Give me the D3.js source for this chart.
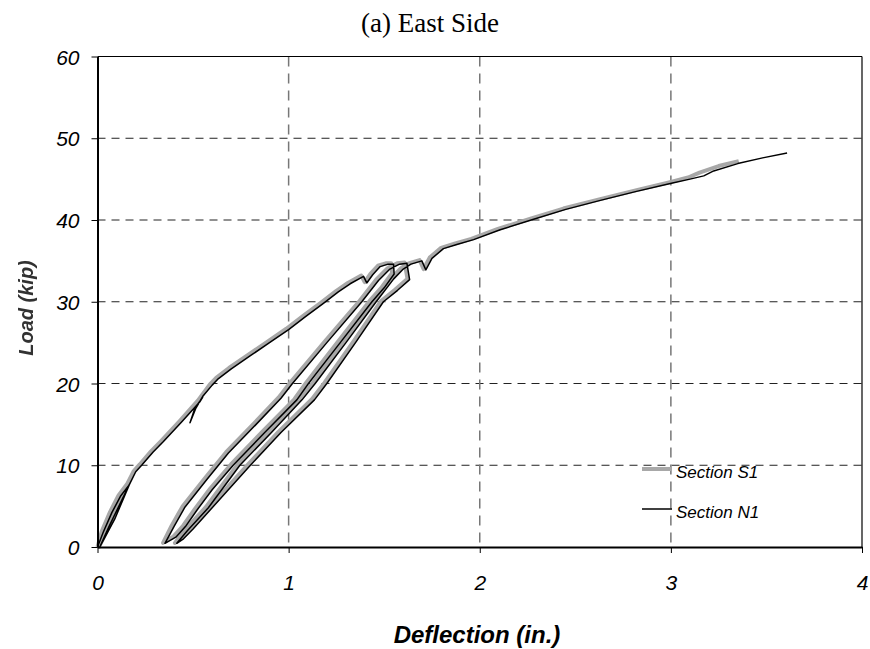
<!DOCTYPE html>
<html>
<head>
<meta charset="utf-8">
<script src="https://cdn.jsdelivr.net/npm/d3@7"></script>
<style>
  body { margin: 0; background: #fff; }
  svg { display: block; }
</style>
</head>
<body>
<svg id="chart" width="870" height="649"></svg>
<script>
// ---------- data ----------
const xTicks = [0, 1, 2, 3, 4];
const yTicks = [0, 10, 20, 30, 40, 50, 60];

// Section N1 (black)
const n1Defl = [0, 0.03, 0.075, 0.12, 0.166, 0.09, 0.012, 0.06, 0.166, 0.20, 0.231, 0.29, 0.345, 0.44, 0.537, 0.55,
  0.51, 0.484, 0.515, 0.55, 0.60, 0.633, 0.70, 0.80, 0.90, 1.0, 1.09, 1.182, 1.26, 1.322, 1.392, 1.409, 1.44, 1.479, 1.52, 1.549, 1.552,
  1.50, 1.436, 1.27, 1.104, 1.043, 0.875, 0.71, 0.60, 0.52, 0.46, 0.41, 0.353,
  0.40, 0.458, 0.57, 0.685, 0.83, 0.96, 1.02, 1.2, 1.383, 1.47, 1.53, 1.58, 1.619, 1.633,
  1.57, 1.496, 1.35, 1.20, 1.135, 0.96, 0.80, 0.70, 0.60, 0.50, 0.45, 0.415,
  0.47, 0.58, 0.745, 0.91, 1.07, 1.139, 1.30, 1.458, 1.55, 1.60, 1.64, 1.697, 1.718, 1.75, 1.81, 1.88, 1.968, 2.107, 2.282,
  2.45, 2.631, 2.82, 3.003, 3.10, 3.172, 3.224, 3.35, 3.48, 3.608];
const n1Load = [0, 1.8, 4.2, 6.2, 7.6, 3.4, 0, 2.5, 7.6, 9.2, 10, 11.6, 12.9, 15.3, 17.8, 18.3,
  17.0, 15.2, 17.0, 18.4, 19.8, 20.6, 21.8, 23.4, 25.0, 26.6, 28.2, 29.8, 31.2, 32.2, 33.1, 32.3, 33.3, 34.3, 34.6, 34.6, 33.4,
  31.7, 30, 25, 20, 18, 14, 10, 7, 4.5, 2.5, 1.2, 0.45,
  2.5, 4.9, 8.2, 11.5, 15, 18.2, 20, 25, 30, 32.6, 34.0, 34.6, 34.7, 32.7,
  31.4, 30, 25, 20, 18, 14, 10, 7.4, 4.8, 2.2, 1.0, 0.45,
  2.0, 4.8, 10, 14, 18, 20, 25, 30, 32.8, 34.0, 34.6, 35.0, 33.9, 35.3, 36.5, 37.0, 37.6, 38.8, 40.1,
  41.3, 42.4, 43.5, 44.5, 45.0, 45.4, 46.0, 46.9, 47.6, 48.2];

// Section S1 (gray)
const s1Defl = [0, 0.022, 0.066, 0.11, 0.155, 0.08, 0.008, 0.05, 0.155, 0.19, 0.221, 0.28, 0.335, 0.43, 0.525,
  0.588, 0.621, 0.688, 0.788, 0.888, 0.988, 1.078, 1.17, 1.248, 1.31, 1.38, 1.398, 1.428, 1.467, 1.508, 1.537, 1.541,
  1.488, 1.424, 1.258, 1.092, 1.031, 0.863, 0.698, 0.588, 0.508, 0.448, 0.398, 0.343,
  0.388, 0.446, 0.558, 0.673, 0.818, 0.948, 1.008, 1.188, 1.371, 1.458, 1.518, 1.568, 1.607, 1.622,
  1.558, 1.484, 1.338, 1.188, 1.123, 0.948, 0.788, 0.688, 0.588, 0.488, 0.438, 0.405,
  0.458, 0.568, 0.733, 0.898, 1.058, 1.127, 1.288, 1.446, 1.538, 1.588, 1.628, 1.685, 1.706, 1.738, 1.798, 1.868, 1.956, 2.095,
  2.27, 2.438, 2.62, 2.81, 2.99, 3.09, 3.15, 3.25, 3.355];
const s1Load = [0, 1.9, 4.3, 6.3, 7.7, 3.5, 0, 2.6, 7.7, 9.3, 10.1, 11.7, 13.0, 15.4, 17.9,
  19.9, 20.7, 21.9, 23.5, 25.1, 26.7, 28.3, 29.9, 31.3, 32.3, 33.2, 32.4, 33.4, 34.4, 34.7, 34.7, 33.5,
  31.8, 30.1, 25.1, 20.1, 18.1, 14.1, 10.1, 7.1, 4.6, 2.6, 1.3, 0.5,
  2.6, 5.0, 8.3, 11.6, 15.1, 18.3, 20.1, 25.1, 30.1, 32.7, 34.1, 34.7, 34.8, 32.8,
  31.5, 30.1, 25.1, 20.1, 18.1, 14.1, 10.1, 7.5, 4.9, 2.3, 1.1, 0.5,
  2.1, 4.9, 10.1, 14.1, 18.1, 20.1, 25.1, 30.1, 32.9, 34.1, 34.7, 35.1, 34.0, 35.4, 36.6, 37.1, 37.7, 38.9,
  40.2, 41.4, 42.5, 43.6, 44.6, 45.2, 45.8, 46.6, 47.2];

const seriesNames = ["Section S1", "Section N1"];

// ---------- chart ----------
const svg = d3.select("#chart");
const pLeft = 97.5, pRight = 862, pTop = 56.5, pBottom = 547;
const x = d3.scaleLinear().domain([0, 4]).range([pLeft, pRight]);
const y = d3.scaleLinear().domain([0, 60]).range([pBottom, pTop]);

const tickFont = "'Liberation Sans', Arial, sans-serif";

// gridlines
svg.append("g").selectAll("line").data(yTicks.filter(v => v > 0 && v < 60)).join("line")
  .attr("x1", pLeft).attr("x2", pRight)
  .attr("y1", d => y(d)).attr("y2", d => y(d))
  .attr("stroke", "#222").attr("stroke-width", 1).attr("stroke-dasharray", "8,6");
svg.append("g").selectAll("line").data(xTicks.filter(v => v > 0 && v < 4)).join("line")
  .attr("x1", d => x(d)).attr("x2", d => x(d))
  .attr("y1", pTop).attr("y2", pBottom)
  .attr("stroke", "#777").attr("stroke-width", 1.5).attr("stroke-dasharray", "10,7");

// frame top/right
svg.append("line").attr("x1", pLeft).attr("x2", pRight).attr("y1", pTop).attr("y2", pTop)
  .attr("stroke", "#000").attr("stroke-width", 1.2);
svg.append("line").attr("x1", pRight).attr("x2", pRight).attr("y1", pTop).attr("y2", pBottom)
  .attr("stroke", "#000").attr("stroke-width", 1.2);

// data lines
const lineGen = d3.line().x(d => x(d[0])).y(d => y(d[1]));
const s1 = s1Defl.map((d, i) => [d, s1Load[i]]);
const n1 = n1Defl.map((d, i) => [d, n1Load[i]]);
svg.append("path").datum(s1).attr("d", lineGen)
  .attr("fill", "none").attr("stroke", "#a8a8a8").attr("stroke-width", 4).attr("stroke-linejoin", "round");
svg.append("path").datum(n1).attr("d", lineGen)
  .attr("fill", "none").attr("stroke", "#000").attr("stroke-width", 1.5).attr("stroke-linejoin", "round");

// axes
const xAxis = svg.append("g").attr("transform", `translate(0,${pBottom})`)
  .call(d3.axisBottom(x).tickValues(xTicks).tickFormat(d3.format("d")).tickSize(6).tickPadding(22).tickSizeOuter(0));
const yAxis = svg.append("g").attr("transform", `translate(${pLeft},0)`)
  .call(d3.axisLeft(y).tickValues(yTicks).tickFormat(d3.format("d")).tickSize(6).tickPadding(12).tickSizeOuter(0));
[xAxis, yAxis].forEach(g => {
  g.select(".domain").attr("stroke", "#000").attr("stroke-width", 2);
  g.selectAll(".tick line").attr("stroke", "#000").attr("stroke-width", 1);
  g.selectAll(".tick text").attr("font-family", tickFont).attr("font-style", "italic")
    .attr("font-size", 21).attr("fill", "#000");
});
yAxis.selectAll(".tick text").attr("dy", "0.36em");

// title
svg.append("text").attr("x", 430).attr("y", 32).attr("text-anchor", "middle")
  .attr("font-family", "'Liberation Serif', 'Times New Roman', serif").attr("font-size", 27)
  .attr("fill", "#000").text("(a) East Side");

// axis titles
svg.append("text").attr("x", 477).attr("y", 643).attr("text-anchor", "middle")
  .attr("font-family", tickFont).attr("font-style", "italic").attr("font-weight", "bold")
  .attr("font-size", 24).attr("fill", "#000").text("Deflection (in.)");

const defs = svg.append("defs");
defs.append("filter").attr("id", "soft").append("feGaussianBlur").attr("stdDeviation", 0.7);
svg.append("text").attr("transform", "translate(33,308) rotate(-90)").attr("text-anchor", "middle")
  .attr("font-family", tickFont).attr("font-style", "italic").attr("font-weight", "bold")
  .attr("font-size", 20).attr("fill", "#333").attr("filter", "url(#soft)").text("Load (kip)");

// legend
const legendY = [469, 509];
const legend = svg.append("g");
legend.selectAll("line").data(seriesNames).join("line")
  .attr("x1", 642).attr("x2", 672)
  .attr("y1", (d, i) => legendY[i]).attr("y2", (d, i) => legendY[i])
  .attr("stroke", (d, i) => i === 0 ? "#a8a8a8" : "#000")
  .attr("stroke-width", (d, i) => i === 0 ? 4 : 1.5);
legend.selectAll("text").data(seriesNames).join("text")
  .attr("x", 676).attr("y", (d, i) => legendY[i] + 3).attr("dy", "0.35em")
  .attr("font-family", tickFont).attr("font-style", "italic").attr("font-size", 17)
  .attr("fill", "#000").text(d => d);
</script>
</body>
</html>
